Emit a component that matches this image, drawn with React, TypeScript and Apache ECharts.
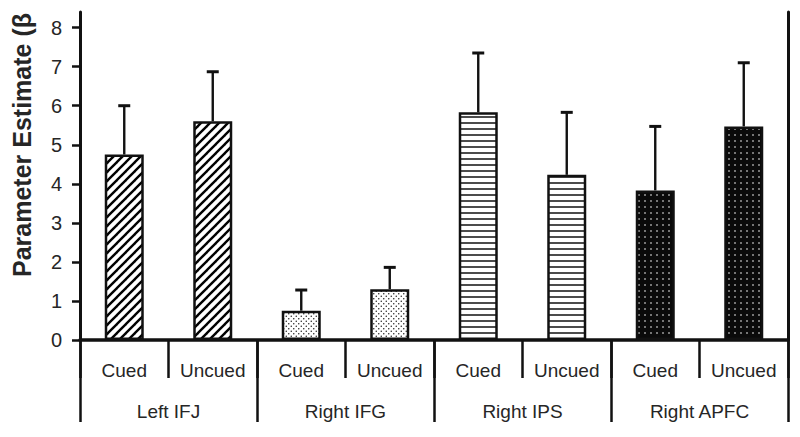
import React, { useEffect, useRef } from "react";
import * as echarts from "echarts";

const categories = ["Cued", "Uncued", "Cued", "Uncued", "Cued", "Uncued", "Cued", "Uncued"];
const groups = ["Left IFJ", "Right IFG", "Right IPS", "Right APFC"];
const means = [4.75, 5.6, 0.75, 1.3, 5.83, 4.23, 3.83, 5.47];
const errorTop = [6.0, 6.87, 1.28, 1.86, 7.35, 5.83, 5.47, 7.1];
const yTicks = [0, 1, 2, 3, 4, 5, 6, 7, 8];
const yName = "Parameter Estimate (β";

const FONT = "'Liberation Sans', Arial, Helvetica, sans-serif";
const INK = "#111";
const TEXT = "#262626";

function makeTile(w: number, h: number, draw: (c: CanvasRenderingContext2D) => void) {
  const cv = document.createElement("canvas");
  cv.width = w;
  cv.height = h;
  const ctx = cv.getContext("2d")!;
  draw(ctx);
  return { image: cv, repeat: "repeat" } as any;
}

function patterns() {
  const hatch = makeTile(9, 9, (c) => {
    c.fillStyle = "#fff";
    c.fillRect(0, 0, 9, 9);
    c.strokeStyle = "#000";
    c.lineWidth = 2.4;
    for (const o of [-9, 0, 9]) {
      c.beginPath();
      c.moveTo(-1 + o, 10);
      c.lineTo(10 + o, -1);
      c.stroke();
    }
  });
  const stipple = makeTile(5, 5, (c) => {
    c.fillStyle = "#fff";
    c.fillRect(0, 0, 5, 5);
    c.fillStyle = "#222";
    c.beginPath();
    c.arc(1.25, 1.25, 0.75, 0, Math.PI * 2);
    c.fill();
    c.beginPath();
    c.arc(3.75, 3.75, 0.75, 0, Math.PI * 2);
    c.fill();
  });
  const hlines = makeTile(6, 6, (c) => {
    c.fillStyle = "#fff";
    c.fillRect(0, 0, 6, 6);
    c.fillStyle = "#000";
    c.fillRect(0, 2.3, 6, 1.4);
  });
  const darkDots = makeTile(6, 6, (c) => {
    c.fillStyle = "#0a0a0a";
    c.fillRect(0, 0, 6, 6);
    c.fillStyle = "#fff";
    c.beginPath();
    c.arc(3, 3, 0.8, 0, Math.PI * 2);
    c.fill();
  });
  return [hatch, hatch, stipple, stipple, hlines, hlines, darkDots, darkDots];
}

export default function App() {
  const ref = useRef<HTMLDivElement>(null);
  useEffect(() => {
    if (!ref.current) return;
    const chart = echarts.init(ref.current, undefined, { renderer: "svg" });
    const fills = patterns();
    const option: any = {
      animation: false,
      backgroundColor: "#fff",
      grid: { left: 80, right: 12, top: 12, bottom: 97 },
      xAxis: [
        {
          type: "category",
          data: categories,
          position: "bottom",
          offset: 0,
          axisLine: { show: true, lineStyle: { color: INK, width: 3.5 } },
          axisTick: { show: true, interval: 0, length: 38, lineStyle: { color: INK, width: 2.5 } },
          axisLabel: { interval: 0, margin: 21, color: TEXT, fontSize: 19, fontFamily: FONT },
        },
        {
          type: "category",
          data: groups,
          position: "bottom",
          offset: 0,
          axisLine: { show: false },
          axisTick: { show: true, interval: 0, length: 82, lineStyle: { color: INK, width: 2.5 } },
          axisLabel: { interval: 0, margin: 62, color: TEXT, fontSize: 19, fontFamily: FONT },
        },
      ],
      yAxis: [
        {
          type: "value",
          min: 0,
          max: 8.4,
          position: "left",
          splitLine: { show: false },
          axisLine: { show: true, lineStyle: { color: INK, width: 3 } },
          axisTick: { show: true, length: 8, customValues: yTicks, lineStyle: { color: INK, width: 2.5 } },
          axisLabel: { margin: 18, customValues: yTicks, color: TEXT, fontSize: 20, fontFamily: FONT },
        },
        {
          type: "value",
          min: 0,
          max: 8.4,
          position: "right",
          splitLine: { show: false },
          axisLine: { show: true, lineStyle: { color: INK, width: 3 } },
          axisTick: { show: false },
          axisLabel: { show: false },
        },
      ],
      graphic: [
        {
          type: "text",
          x: 22,
          y: 277,
          rotation: Math.PI / 2,
          style: {
            text: yName,
            font: `bold 25px ${FONT}`,
            fill: TEXT,
            align: "left",
            verticalAlign: "middle",
          },
        },
      ],
      series: [
        {
          type: "bar",
          xAxisIndex: 0,
          yAxisIndex: 0,
          barWidth: 39,
          data: means.map((v, i) => ({
            value: v,
            itemStyle: { color: fills[i], borderColor: INK, borderWidth: 2.5 },
          })),
          z: 2,
        },
        {
          type: "custom",
          xAxisIndex: 0,
          yAxisIndex: 0,
          z: 3,
          data: means.map((v, i) => [i, v, errorTop[i]]),
          renderItem: (params: any, api: any) => {
            const i = api.value(0);
            const base = api.coord([i, api.value(1)]);
            const top = api.coord([i, api.value(2)]);
            return {
              type: "group",
              children: [
                {
                  type: "line",
                  shape: { x1: base[0], y1: base[1], x2: top[0], y2: top[1] },
                  style: { stroke: INK, lineWidth: 2.4 },
                },
                {
                  type: "line",
                  shape: { x1: top[0] - 6, y1: top[1], x2: top[0] + 6, y2: top[1] },
                  style: { stroke: INK, lineWidth: 3 },
                },
              ],
            };
          },
        },
      ],
    };
    chart.setOption(option);
    return () => chart.dispose();
  }, []);
  return <div ref={ref} style={{ width: 800, height: 437, position: "absolute", left: 0, top: 0 }} />;
}
